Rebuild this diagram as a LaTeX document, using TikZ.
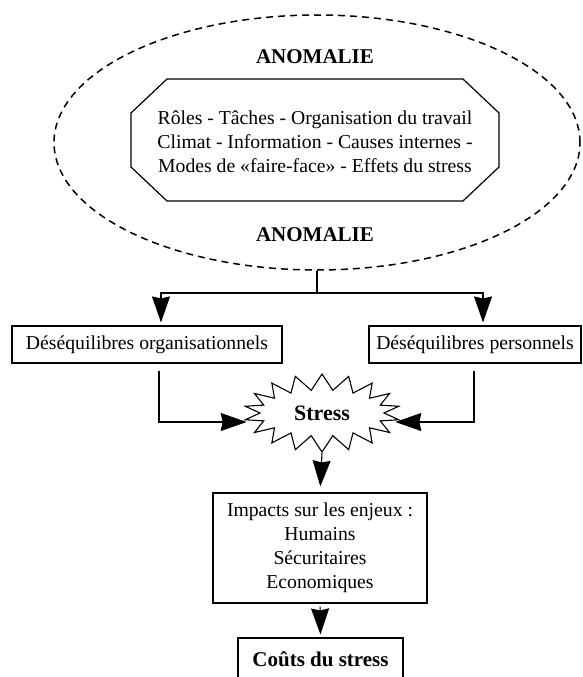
\documentclass[tikz,border=0pt]{standalone}
\usepackage{fontspec}
\setmainfont{Liberation Serif}
\usetikzlibrary{arrows.meta,positioning,shapes.geometric,shapes.symbols}

\tikzset{
  textfont/.style={font=\fontsize{19.7}{24}\selectfont},
  titlefont/.style={font=\fontsize{21}{25}\selectfont\bfseries},
  box/.style={draw,line width=1.1pt,inner sep=0pt,align=center,textfont},
  arr/.style={-{Stealth[length=26pt,width=18pt,inset=2pt]},line width=1.1pt},
}

\begin{document}
\begin{tikzpicture}[x=1pt,y=-1pt]
  \useasboundingbox (0,0) rectangle (582,677);
  % anomaly zone
  \node[ellipse,draw,line width=1.5pt,dash pattern=on 7pt off 5pt,minimum width=526pt,minimum height=255pt] (zone) at (317,142.5) {};
  \node[align=center,textfont,inner sep=0pt] (causes) at (315,142)
    {Rôles - Tâches - Organisation du travail\\Climat - Information - Causes internes -\\Modes de «faire-face» - Effets du stress};
  \draw[line width=1.2pt,shift={(causes.center)}] (-148,-63) -- (148,-63) -- (184,-29) -- (184,25)
    -- (148,59) -- (-148,59) -- (-184,25) -- (-184,-29) -- cycle;
  \node[titlefont] (anomTop) at (315,57) {ANOMALIE};
  \node[titlefont] (anomBot) at (315,235) {ANOMALIE};
  % imbalances
  \node[box,minimum width=270pt,minimum height=37pt] (orgBox) at (147,344.5) {Déséquilibres organisationnels};
  \node[box,minimum width=212pt,minimum height=37pt] (persBox) at (475,344.5) {Déséquilibres personnels};
  \node[starburst,draw,line width=1.1pt,starburst points=18,starburst point height=16pt,random starburst=0,
        minimum width=156pt,minimum height=78pt,font=\fontsize{22}{26}\selectfont\bfseries] (stress) at (322,413) {Stress};
  \node[box,minimum width=214pt,minimum height=110pt] (impacts) at (320,548)
    {Impacts sur les enjeux :\\Humains\\Sécuritaires\\Economiques};
  \node[box,minimum width=165pt,minimum height=42pt,titlefont] (costs) at (320.5,659) {Coûts du stress};
  \coordinate (split) at (317,293);
  \draw[line width=1.1pt] (zone.south) -- (split);
  \draw[arr,shorten >=3pt] (split) -| ([xshift=14pt]orgBox.north);
  \draw[arr,shorten >=3pt] (split) -| ([xshift=8pt]persBox.north);
  \draw[arr,shorten <=7pt] ([xshift=12pt]orgBox.south) |- ([xshift=-12pt,yshift=-9pt]stress.west);
  \draw[arr,shorten <=7pt] ([xshift=-1pt]persBox.south) |- ([xshift=10pt,yshift=-9pt]stress.east);
  \draw[arr,shorten >=6pt] (stress.south) -- (impacts.north);
  \draw[arr,shorten <=3pt,shorten >=3pt] (impacts.south) -- (costs.north);
\end{tikzpicture}
\end{document}
